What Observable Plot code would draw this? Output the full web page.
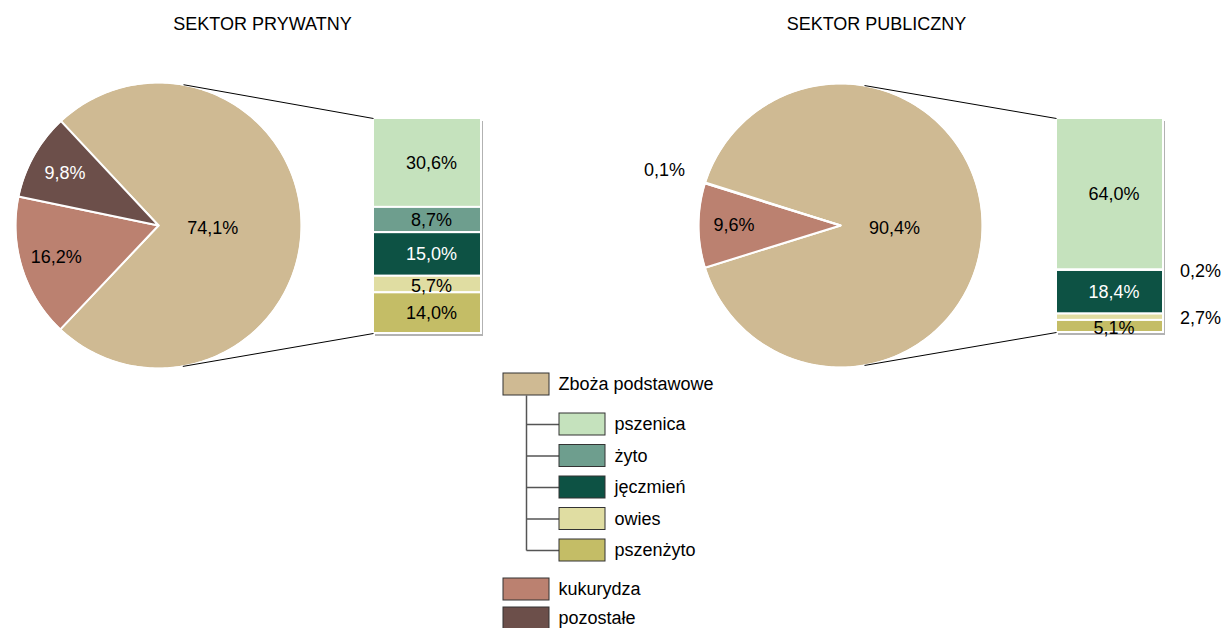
<!DOCTYPE html>
<html><head><meta charset="utf-8">
<script src="https://cdn.jsdelivr.net/npm/d3@7"></script>
<script src="https://cdn.jsdelivr.net/npm/@observablehq/plot@0.6"></script>
<style>body{margin:0;background:#fff} #chart{width:1223px;height:628px;overflow:hidden}</style>
</head><body><div id="chart"></div>
<script>
// ---- data ----
const sectors = ["SEKTOR PRYWATNY", "SEKTOR PUBLICZNY"];
const pieCategories = ["Zboża podstawowe", "kukurydza", "pozostałe"];
const barCategories = ["pszenica", "żyto", "jęczmień", "owies", "pszenżyto"];
const privatePie = [74.1, 16.2, 9.8];
const privateBar = [30.6, 8.7, 15.0, 5.7, 14.0];
const publicPie = [90.4, 9.6, 0.1];
const publicBar = [64.0, 0.2, 18.4, 2.7, 5.1];

// ---- style ----
const pieColors = ["#cfba93", "#bb8170", "#6c4f4a"];
const barColors = ["#c5e2bd", "#6e9e8e", "#0d5244", "#e0dda2", "#c4bd66"];
const darkColors = new Set(["#6c4f4a", "#0d5244"]);
const FONT = "'Liberation Sans', Arial, sans-serif";
const FS = 18;

const layout = [
  {cx: 158, cy: 225, r: 143, bx1: 373, bx2: 481, by1: 118, by2: 333, tx: 262, ty: 24},
  {cx: 840, cy: 225, r: 142, bx1: 1056, bx2: 1163, by1: 118, by2: 332, tx: 876, ty: 24}
];
const pies = [privatePie, publicPie];
const bars = [privateBar, publicBar];
const fmt = v => v.toFixed(1).replace(".", ",") + "%";
const rad = a => a * Math.PI / 180;

const marks = [];
const texts = [];
const shadowPie = [], shadowBar = [], slices = [], outlines = [], rects = [], connectors = [];

sectors.forEach((title, s) => {
  const L = layout[s];
  const pt = (a, rr) => ({x: L.cx + rr * Math.sin(rad(a)), y: L.cy - rr * Math.cos(rad(a))});
  texts.push({x: L.tx, y: L.ty, text: title, fill: "#000", anchor: "middle"});
  // pie
  const vals = pies[s];
  let a = 90 - vals[0] * 1.8;
  vals.forEach((v, i) => {
    const a0 = a, a1 = a + v * 3.6;
    const n = Math.max(2, Math.ceil(a1 - a0));
    const pts = [{x: L.cx, y: L.cy}];
    for (let k = 0; k <= n; k++) pts.push(pt(a0 + (a1 - a0) * k / n, L.r));
    pts.push({x: L.cx, y: L.cy});
    slices.push({pts, fill: pieColors[i], key: s + "-" + i});
    const mid = (a0 + a1) / 2;
    const frac = v > 50 ? 0.38 : v < 1 ? 1.3 : 0.75;
    const p = pt(mid, L.r * frac);
    texts.push({x: p.x, y: p.y + (v > 50 ? 3 : 0), text: fmt(v), fill: v < 1 ? "#000" : (darkColors.has(pieColors[i]) ? "#fff" : "#000"), anchor: "middle"});
    a = a1;
  });
  const circ = d3.range(0, 361, 2).map(t => pt(t, L.r));
  shadowPie.push(...circ.map(p => ({...p, key: s})));
  outlines.push(...circ.map(p => ({...p, key: s})));
  // bar
  const bv = bars[s];
  const sum = d3.sum(bv);
  const ys = d3.scaleLinear([0, sum], [L.by1, L.by2]);
  let c = 0;
  bv.forEach((v, i) => {
    const y1 = ys(c), y2 = ys(c + v);
    rects.push({x1: L.bx1, x2: L.bx2, y1, y2, fill: barColors[i]});
    if (v < 3) {
      texts.push({x: L.bx2 + 37, y: (y1 + y2) / 2 + 1, text: fmt(v), fill: "#000", anchor: "middle"});
    } else {
      texts.push({x: (L.bx1 + L.bx2) / 2 + 4, y: (y1 + y2) / 2 + (v < 6 ? 2 : 0), text: fmt(v), fill: darkColors.has(barColors[i]) ? "#fff" : "#000", anchor: "middle"});
    }
    c += v;
  });
  shadowBar.push({x1: L.bx1, x2: L.bx2, y1: L.by1, y2: L.by2});
  // connector (tangent) lines
  [[L.bx1, L.by1, -1], [L.bx1, L.by2, 1]].forEach(([px, py, sgn]) => {
    const d = Math.hypot(px - L.cx, py - L.cy);
    const base = Math.atan2(py - L.cy, px - L.cx);
    const th = base + sgn * Math.acos(L.r / d);
    connectors.push({x1: L.cx + L.r * Math.cos(th), y1: L.cy + L.r * Math.sin(th), x2: px, y2: py});
  });
});

// ---- legend ----
const legendTop = {label: pieCategories[0], color: pieColors[0], level: 0};
const legendChildren = barCategories.map((b, i) => ({label: b, color: barColors[i], level: 1}));
const legendRest = pieCategories.slice(1).map((p, i) => ({label: p, color: pieColors[i + 1], level: 0}));
const legendItems = [legendTop, ...legendChildren, ...legendRest];
legendItems.forEach((d, i) => {
  if (i === 0) d.y = 384;
  else if (i <= legendChildren.length) d.y = 424 + (i - 1) * 31.5;
  else d.y = 589 + (i - 1 - legendChildren.length) * 29;
  d.x1 = d.level === 0 ? 503 : 559;
  d.x2 = d.x1 + 46;
});
const treeX = 526;

const allSlicePts = slices.flatMap(sl => sl.pts.map(p => ({...p, key: sl.key, fill: sl.fill})));

marks.push(
  Plot.line(shadowPie, {x: "x", y: "y", z: "key", fill: "#000", fillOpacity: 0.28, stroke: "none", dx: 1, dy: 3, ariaLabel: "shadow"}),
  Plot.rect(shadowBar, {x1: "x1", x2: "x2", y1: "y1", y2: "y2", fill: "#000", fillOpacity: 0.3, dx: 2, dy: 3, ariaLabel: "shadow"}),
  Plot.line(allSlicePts, {x: "x", y: "y", z: "key", fill: "fill", stroke: "#fff", strokeWidth: 2, strokeLinejoin: "round", curve: "linear"}),
  Plot.line(outlines, {x: "x", y: "y", z: "key", stroke: "#fff", strokeWidth: 1.5, fill: "none"}),
  Plot.rect(rects, {x1: "x1", x2: "x2", y1: "y1", y2: "y2", fill: "fill", stroke: "#fff", strokeWidth: 2}),
  Plot.link(connectors, {x1: "x1", y1: "y1", x2: "x2", y2: "y2", stroke: "#000", strokeWidth: 1}),
  // legend tree
  Plot.link([{x1: treeX, x2: treeX, y1: legendTop.y + 11, y2: legendChildren[legendChildren.length - 1].y}], {x1: "x1", x2: "x2", y1: "y1", y2: "y2", stroke: "#555", strokeWidth: 1.5}),
  Plot.link(legendChildren, {x1: treeX, x2: "x1", y1: "y", y2: "y", stroke: "#555", strokeWidth: 1.5}),
  Plot.rect(legendItems, {x1: "x1", x2: "x2", y1: d => d.y - 11, y2: d => d.y + 11, fill: "color", stroke: "#333", strokeWidth: 1}),
  Plot.text(legendItems, {x: d => d.x2 + 9, y: "y", text: "label", textAnchor: "start", fill: "#000", fontSize: FS, fontFamily: FONT}),
  Plot.text(texts, {x: "x", y: "y", text: "text", fill: "fill", textAnchor: "middle", fontSize: FS, fontFamily: FONT})
);

const chart = Plot.plot({
  width: 1223, height: 628, margin: 0,
  x: {type: "identity", axis: null},
  y: {type: "identity", axis: null},
  color: {type: "identity"},
  style: {background: "#fff", fontFamily: FONT},
  marks
});
const svg = d3.select(chart);
svg.insert("defs", ":first-child").html('<filter id="soft" x="-20%" y="-20%" width="140%" height="140%"><feGaussianBlur stdDeviation="2.5"/></filter>');
svg.selectAll('g[aria-label="shadow"]').attr("filter", "url(#soft)");
document.getElementById("chart").appendChild(chart);
</script>
</body></html>
